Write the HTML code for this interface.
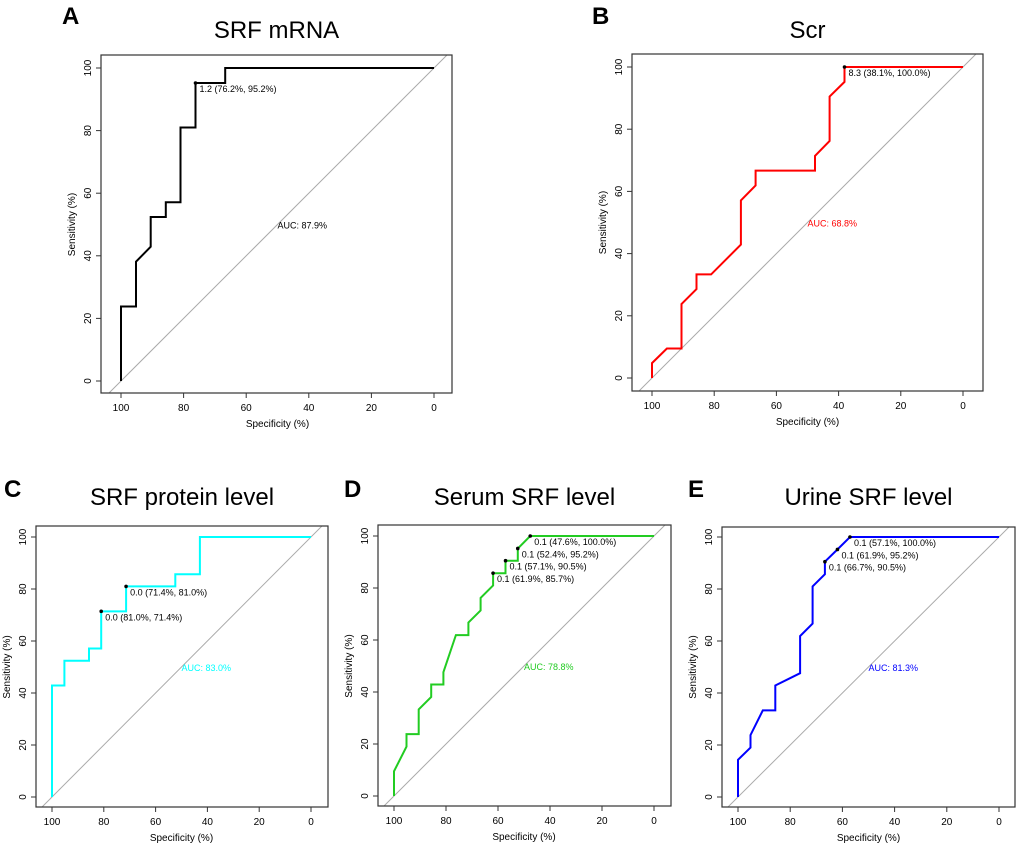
<!DOCTYPE html>
<html><head><meta charset="utf-8"><style>
html,body{margin:0;padding:0;background:#fff;}
svg{display:block;font-family:"Liberation Sans",Arial,sans-serif;}
</style></head><body>
<svg id="chart" width="1020" height="845" viewBox="0 0 1020 845"></svg>
<script>
// Data arrays (specificity %, sensitivity %)
const specA=[100,100,95.2,95.2,90.5,90.5,85.7,85.7,81,81,76.2,76.2,66.7,66.7,0];
const sensA=[0,23.8,23.8,38.1,42.9,52.4,52.4,57.1,57.1,81,81,95.2,95.2,100,100];
const specB=[100,100,95.2,90.5,90.5,85.7,85.7,81,71.4,71.4,66.7,66.7,47.6,47.6,42.9,42.9,38.1,38.1,0];
const sensB=[0,4.8,9.5,9.5,23.8,28.6,33.3,33.3,42.9,57.1,61.9,66.7,66.7,71.4,76.2,90.5,95.2,100,100];
const specC=[100,100,95.2,95.2,85.7,85.7,81,81,71.4,71.4,52.4,52.4,42.9,42.9,0];
const sensC=[0,42.9,42.9,52.4,52.4,57.1,57.1,71.4,71.4,81,81,85.7,85.7,100,100];
const specD=[100,100,95.2,95.2,90.5,90.5,85.7,85.7,81,81,76.2,71.4,71.4,66.7,66.7,61.9,61.9,57.1,57.1,52.4,52.4,47.6,0];
const sensD=[0,9.5,19,23.8,23.8,33.3,38.1,42.9,42.9,47.6,61.9,61.9,66.7,71.4,76.2,81,85.7,85.7,90.5,90.5,95.2,100,100];
const specE=[100,100,95.2,95.2,90.5,85.7,85.7,76.2,76.2,71.4,71.4,66.7,66.7,61.9,57.1,0];
const sensE=[0,14.3,19,23.8,33.3,33.3,42.9,47.6,61.9,66.7,81,85.7,90.5,95.2,100,100];
const thrA=[{t:"1.2",sp:76.2,se:95.2}];
const thrB=[{t:"8.3",sp:38.1,se:100.0}];
const thrC=[{t:"0.0",sp:71.4,se:81.0},{t:"0.0",sp:81.0,se:71.4}];
const thrD=[{t:"0.1",sp:47.6,se:100.0},{t:"0.1",sp:52.4,se:95.2},{t:"0.1",sp:57.1,se:90.5},{t:"0.1",sp:61.9,se:85.7}];
const thrE=[{t:"0.1",sp:57.1,se:100.0},{t:"0.1",sp:61.9,se:95.2},{t:"0.1",sp:66.7,se:90.5}];
const aucs=["87.9%","68.8%","83.0%","78.8%","81.3%"];
const ticks=[100,80,60,40,20,0];

const NS="http://www.w3.org/2000/svg";
const svg=document.getElementById('chart');
function mk(tag,attrs,parent,text){const e=document.createElementNS(NS,tag);for(const k in attrs)e.setAttribute(k,attrs[k]);if(text!==undefined)e.textContent=text;(parent||svg).appendChild(e);return e;}

const panels=[
 {id:'a',letter:'A',lx:62,ly:24,title:'SRF mRNA',ty:38,bx:[101,452],by:[55,393],x100:121,x0:434,y100:68,y0:381,spec:specA,sens:sensA,thr:thrA,col:'#000',aucCol:'#000'},
 {id:'b',letter:'B',lx:592,ly:24,title:'Scr',ty:38,bx:[632,983],by:[54,391],x100:652,x0:963,y100:67,y0:378,spec:specB,sens:sensB,thr:thrB,col:'#ff0000',aucCol:'#ff0000'},
 {id:'c',letter:'C',lx:4,ly:497,title:'SRF protein level',ty:505,bx:[36,328],by:[526,807],x100:52,x0:311,y100:537,y0:797,spec:specC,sens:sensC,thr:thrC,col:'#00ffff',aucCol:'#00ffff'},
 {id:'d',letter:'D',lx:344,ly:497,title:'Serum SRF level',ty:505,bx:[378,671],by:[525,806],x100:394,x0:654,y100:536,y0:796,spec:specD,sens:sensD,thr:thrD,col:'#22cc22',aucCol:'#22cc22'},
 {id:'e',letter:'E',lx:688,ly:497,title:'Urine SRF level',ty:505,bx:[722,1015],by:[527,807],x100:738,x0:999,y100:537,y0:797,spec:specE,sens:sensE,thr:thrE,col:'#0000ff',aucCol:'#0000ff'}
];

panels.forEach((p,i)=>{
  const g=mk('g',{});
  
  
  const X=v=>p.x0+(p.x100-p.x0)*v/100;
  const Y=v=>p.y0+(p.y100-p.y0)*v/100;
  const L=mk('text',{x:p.lx,y:p.ly,'font-size':24,'font-weight':'bold',fill:'#000'},g,p.letter);
  
  
  const T=mk('text',{x:(p.bx[0]+p.bx[1])/2,y:p.ty,'font-size':24,'text-anchor':'middle',fill:'#000'},g,p.title);
  
  
  const cid='clip'+p.id;
  const cp=mk('clipPath',{id:cid},g);
  mk('rect',{x:p.bx[0],y:p.by[0],width:p.bx[1]-p.bx[0],height:p.by[1]-p.by[0]},cp);
  const D=mk('line',{x1:X(110),y1:Y(-10),x2:X(-10),y2:Y(110),stroke:'#aaa','stroke-width':1,'clip-path':'url(#'+cid+')'},g);
  
  
  const B=mk('rect',{x:p.bx[0],y:p.by[0],width:p.bx[1]-p.bx[0],height:p.by[1]-p.by[0],fill:'none',stroke:'#333','stroke-width':1.2},g);
  
  
  ticks.forEach(t=>{
    const tx=X(t);
    mk('line',{x1:tx,y1:p.by[1],x2:tx,y2:p.by[1]+5,stroke:'#333'},g);
    const tl=mk('text',{x:tx,y:p.by[1]+18,'font-size':10,'text-anchor':'middle',fill:'#000'},g,String(t));
    
    
    const ty=Y(t);
    mk('line',{x1:p.bx[0]-5,y1:ty,x2:p.bx[0],y2:ty,stroke:'#333'},g);
    const yl=mk('text',{x:p.bx[0]-10,y:ty,'font-size':10,'text-anchor':'middle',fill:'#000',transform:'rotate(-90 '+(p.bx[0]-10)+' '+ty+')'},g,String(t));
    
    
  });
  const xt=mk('text',{x:(X(100)+X(0))/2,y:p.by[1]+34,'font-size':10,'text-anchor':'middle',fill:'#000'},g,'Specificity (%)');
  
  
  const yx=p.bx[0]-26, yy=(Y(0)+Y(100))/2;
  const yt=mk('text',{x:yx,y:yy,'font-size':10,'text-anchor':'middle',fill:'#000',transform:'rotate(-90 '+yx+' '+yy+')'},g,'Sensitivity (%)');
  
  
  const pts=p.spec.map((s,k)=>X(s).toFixed(1)+','+Y(p.sens[k]).toFixed(1)).join(' ');
  const c=mk('polyline',{points:pts,fill:'none',stroke:p.col,'stroke-width':2},g);
  
  
  p.thr.forEach(th=>{
    const d=mk('circle',{cx:X(th.sp),cy:Y(th.se),r:1.8,fill:'#000'},g);
    
    
    const lt=mk('text',{x:X(th.sp)+4,y:Y(th.se)+9,'font-size':9,fill:'#000'},g,th.t+' ('+th.sp.toFixed(1)+'%, '+th.se.toFixed(1)+'%)');
    
    
  });
  const a=mk('text',{x:X(50),y:Y(50)+4,'font-size':9,fill:p.aucCol},g,'AUC: '+aucs[i]);
  
  
});
</script>
</body></html>
